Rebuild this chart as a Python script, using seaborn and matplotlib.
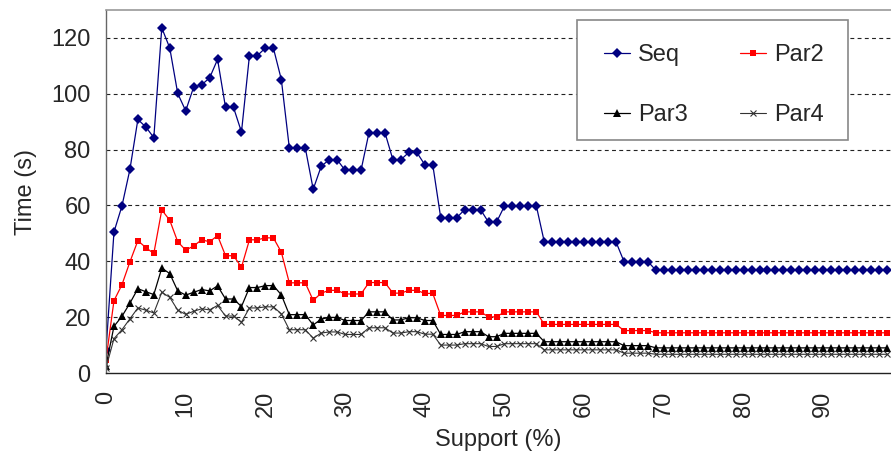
import matplotlib
matplotlib.use("Agg")
import matplotlib.pyplot as plt
from matplotlib.patches import Rectangle
import seaborn as sns

# Support thresholds (%)
support = list(range(0, 99))

seq = [8.1, 50.5, 59.8, 72.9, 90.8, 88.1, 84.3, 123.6, 116.4, 100.1,
       93.9, 102.4, 103.2, 105.7, 112.3, 95.1, 95.1, 86.3, 113.7, 113.7,
       116.4, 116.4, 105.1, 80.7, 80.7, 80.7, 65.8, 74.0, 76.4, 76.4,
       72.6, 72.6, 72.6, 86.1, 86.1, 86.1, 76.4, 76.4, 79.0, 79.0,
       74.6, 74.6, 55.6, 55.6, 55.6, 58.5, 58.5, 58.5, 54.0, 54.0,
       59.8, 59.8, 59.8, 59.8, 59.8, 46.9, 46.9, 46.9, 46.9, 46.9,
       46.9, 46.9, 46.9, 46.9, 46.9, 39.9, 39.9, 39.9, 39.9, 36.8,
       36.8, 36.8, 36.8, 36.8, 36.8, 36.8, 36.8, 36.8, 36.8, 36.8,
       36.8, 36.8, 36.8, 36.8, 36.8, 36.8, 36.8, 36.8, 36.8, 36.8,
       36.8, 36.8, 36.8, 36.8, 36.8, 36.8, 36.8, 36.8, 36.8]

par2 = [4.8, 25.9, 31.6, 39.8, 47.4, 44.9, 42.8, 58.4, 54.7, 47.0,
        44.0, 45.5, 47.7, 47.0, 49.2, 42.0, 42.0, 37.9, 47.7, 47.7,
        48.4, 48.4, 43.3, 32.3, 32.3, 32.3, 26.0, 28.6, 29.6, 29.6,
        28.3, 28.3, 28.3, 32.4, 32.4, 32.4, 28.6, 28.6, 29.6, 29.6,
        28.5, 28.5, 20.6, 20.6, 20.6, 21.9, 21.9, 21.9, 20.1, 20.1,
        21.9, 21.9, 21.9, 21.9, 21.9, 17.4, 17.4, 17.4, 17.4, 17.4,
        17.4, 17.4, 17.4, 17.4, 17.4, 15.2, 15.2, 15.2, 15.2, 14.4,
        14.4, 14.4, 14.4, 14.4, 14.4, 14.4, 14.4, 14.4, 14.4, 14.4,
        14.4, 14.4, 14.4, 14.4, 14.4, 14.4, 14.4, 14.4, 14.4, 14.4,
        14.4, 14.4, 14.4, 14.4, 14.4, 14.4, 14.4, 14.4, 14.4]

par3 = [2.6, 16.7, 20.3, 25.0, 30.2, 29.1, 28.1, 37.6, 35.6, 29.4,
        27.9, 28.9, 29.9, 29.4, 31.2, 26.5, 26.5, 23.8, 30.6, 30.6,
        31.3, 31.3, 28.0, 20.9, 20.9, 20.9, 17.2, 19.3, 19.9, 19.9,
        18.8, 18.8, 18.8, 21.9, 21.9, 21.9, 19.0, 19.0, 19.8, 19.8,
        18.8, 18.8, 13.8, 13.8, 13.8, 14.8, 14.8, 14.8, 13.0, 13.0,
        14.2, 14.2, 14.2, 14.2, 14.2, 11.2, 11.2, 11.2, 11.2, 11.2,
        11.2, 11.2, 11.2, 11.2, 11.2, 9.8, 9.8, 9.8, 9.8, 9.0,
        9.0, 9.0, 9.0, 9.0, 9.0, 9.0, 9.0, 9.0, 9.0, 9.0,
        9.0, 9.0, 9.0, 9.0, 9.0, 9.0, 9.0, 9.0, 9.0, 9.0,
        9.0, 9.0, 9.0, 9.0, 9.0, 9.0, 9.0, 9.0, 9.0]

par4 = [1.8, 12.3, 15.5, 19.4, 23.3, 22.5, 21.5, 28.9, 27.1, 22.5,
        21.0, 22.1, 23.0, 22.6, 24.2, 20.4, 20.4, 18.2, 23.3, 23.3,
        23.7, 23.7, 21.2, 15.5, 15.5, 15.5, 12.5, 14.3, 14.7, 14.7,
        13.8, 13.8, 13.8, 16.2, 16.2, 16.2, 14.3, 14.3, 14.8, 14.8,
        13.9, 13.9, 10.0, 10.0, 10.0, 10.5, 10.5, 10.5, 9.5, 9.5,
        10.5, 10.5, 10.5, 10.5, 10.5, 8.3, 8.3, 8.3, 8.3, 8.3,
        8.3, 8.3, 8.3, 8.3, 8.3, 7.1, 7.1, 7.1, 7.1, 6.7,
        6.7, 6.7, 6.7, 6.7, 6.7, 6.7, 6.7, 6.7, 6.7, 6.7,
        6.7, 6.7, 6.7, 6.7, 6.7, 6.7, 6.7, 6.7, 6.7, 6.7,
        6.7, 6.7, 6.7, 6.7, 6.7, 6.7, 6.7, 6.7, 6.7]

series_names = ["Seq", "Par2", "Par3", "Par4"]
x_ticks = [0, 10, 20, 30, 40, 50, 60, 70, 80, 90]
y_ticks = [0, 20, 40, 60, 80, 100, 120]

sns.set_theme(style="white")
plt.rcParams["font.family"] = ["Liberation Sans", "DejaVu Sans"]

W, H = 891, 461
fig = plt.figure(figsize=(W / 100, H / 100), dpi=100)
ax = fig.add_axes([106 / W, 1 - 373 / H, 1 - 106 / W, (373 - 10) / H])

styles = {
    "Seq": dict(color="#000080", marker="D", markersize=4.6, lw=0.9),
    "Par2": dict(color="#ff0000", marker="s", markersize=4.8, lw=0.9),
    "Par3": dict(color="#000000", marker="^", markersize=5.4, lw=0.9),
    "Par4": dict(color="#333333", marker="x", markersize=4.2, lw=0.8),
}
values = {"Seq": seq, "Par2": par2, "Par3": par3, "Par4": par4}

for name in series_names:
    st = styles[name]
    sns.lineplot(x=support, y=values[name], ax=ax, color=st["color"],
                 marker=st["marker"], markersize=st["markersize"],
                 markeredgewidth=0.8 if name == "Par4" else 0,
                 markeredgecolor=st["color"], linewidth=st["lw"],
                 label=name)

ax.set_xlim(0, 98.5)
ax.set_ylim(0, 130)
ax.set_xticks(x_ticks)
ax.set_yticks(y_ticks)
ax.set_xticklabels([str(t) for t in x_ticks], rotation=90, fontsize=17)
ax.set_yticklabels([str(t) for t in y_ticks], fontsize=17)
ax.tick_params(axis="x", direction="inout", length=14, width=0.8, color="#222222", pad=6)
ax.tick_params(axis="y", direction="out", length=7, width=0.8, color="#222222", pad=4)

for gy in y_ticks[1:]:
    ax.axhline(gy, color="#222222", lw=0.8, ls=(0, (3.5, 3)), zorder=0)

ax.spines["right"].set_visible(False)
ax.spines["top"].set_color("#999999")
ax.spines["top"].set_linewidth(1.2)
ax.spines["left"].set_color("#666666")
ax.spines["left"].set_linewidth(1.0)
ax.spines["bottom"].set_color("#222222")
ax.spines["bottom"].set_linewidth(1.0)

ax.set_xlabel("Support (%)", fontsize=17, labelpad=8)
ax.set_ylabel("Time (s)", fontsize=17, labelpad=10)

# legend box drawn as a separate frame so the entries can be spaced freely
box = Rectangle((577 / W, 1 - 140 / H), (848 - 577) / W, (140 - 20) / H,
                transform=fig.transFigure, facecolor="white",
                edgecolor="#888888", linewidth=1.2, zorder=4, clip_on=False)
ax.add_patch(box)

handles, labels = ax.get_legend_handles_labels()
order = [0, 2, 1, 3]
leg = ax.legend([handles[i] for i in order], [labels[i] for i in order],
                ncol=2, loc="center left",
                bbox_to_anchor=(604 / W, 1 - 85 / H),
                bbox_transform=fig.transFigure,
                fontsize=17, frameon=False, handlelength=1.1,
                handletextpad=0.35, columnspacing=2.2, labelspacing=1.62,
                borderpad=0, borderaxespad=0)
leg.set_zorder(5)

fig.savefig("out.png", dpi=100)
